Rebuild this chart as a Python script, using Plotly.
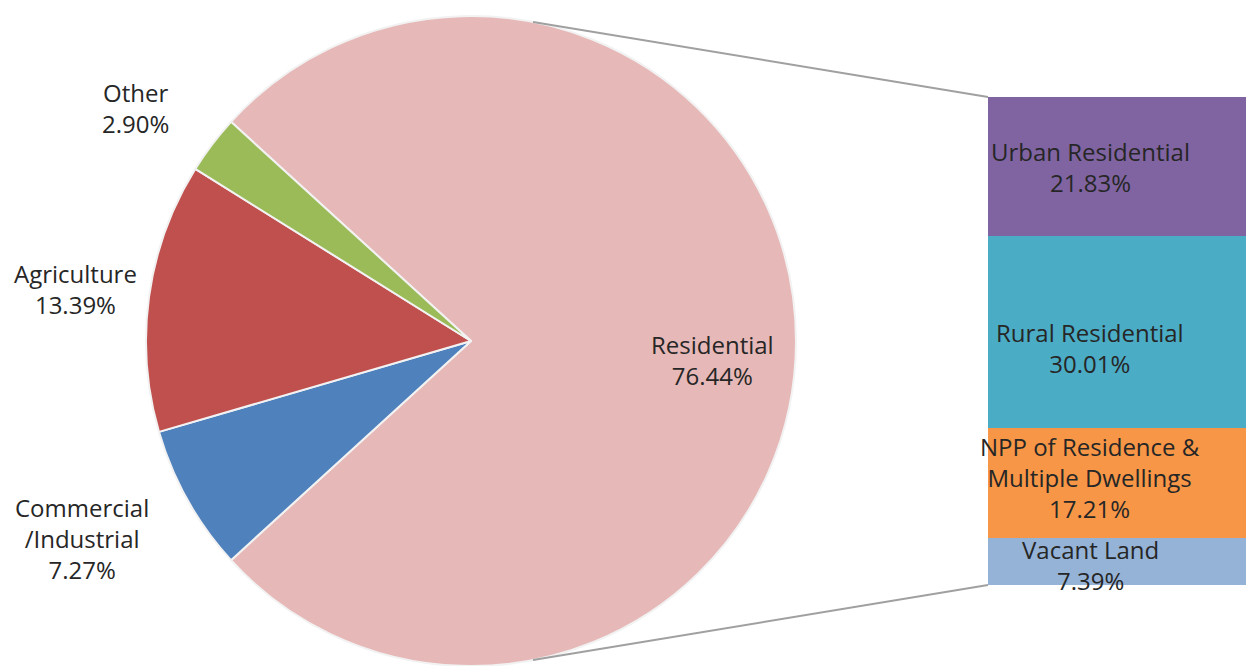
import plotly.graph_objects as go

# ---- data ----
pie_categories = ["Residential", "Commercial/Industrial", "Agriculture", "Other"]
pie_values = [76.44, 7.27, 13.39, 2.90]
pie_display = ["Residential", "Commercial<br>/Industrial", "Agriculture", "Other"]

bar_categories = ["Vacant Land", "NPP of Residence & Multiple Dwellings",
                  "Rural Residential", "Urban Residential"]
bar_values = [7.39, 17.21, 30.01, 21.83]
bar_display = ["Vacant Land", "NPP of Residence &<br>Multiple Dwellings",
               "Rural Residential", "Urban Residential"]

# ---- styles ----
pie_colors = ["#E6B9B8", "#4F81BD", "#C0504D", "#9BBB59"]
bar_colors = ["#95B3D7", "#F79646", "#4BACC6", "#8064A2"]
FONT = "Open Sans"
FSIZE = 24
TXT = "#262626"
W, H = 1246, 666

# pie geometry (pixels)
cx, cy, r = 471, 341, 325
pie_label_pos = {  # paper pixel positions of label centres
    "Residential": (712, 360),
    "Commercial/Industrial": (82, 538),
    "Agriculture": (75, 289),
    "Other": (135, 108),
}
bar_label_yshift = [-4, 5, -16, 0]

fig = go.Figure()

total_pie = sum(pie_values)
first_angle = pie_values[0] / total_pie * 360.0
rotation = 90 - first_angle / 2

fig.add_trace(go.Pie(
    labels=pie_categories,
    values=pie_values,
    sort=False,
    direction="clockwise",
    rotation=rotation,
    marker=dict(colors=pie_colors, line=dict(color="#F2F2F2", width=2)),
    textinfo="none",
    hoverinfo="label+value",
    showlegend=False,
    domain=dict(x=[(cx - r) / W, (cx + r) / W],
                y=[(H - cy - r) / H, (H - cy + r) / H]),
))

for cat, val, col in zip(bar_categories, bar_values, bar_colors):
    fig.add_trace(go.Bar(
        x=[0], y=[val], width=[1], name=cat,
        marker=dict(color=col, line=dict(width=0)),
        showlegend=False, hoverinfo="name+y",
    ))

annotations = []
for cat, disp, val in zip(pie_categories, pie_display, pie_values):
    px, py = pie_label_pos[cat]
    annotations.append(dict(
        x=px / W, y=1 - py / H, xref="paper", yref="paper",
        text=f"{disp}<br>{val:.2f}%", showarrow=False,
        font=dict(family=FONT, size=FSIZE, color=TXT),
        xanchor="center", yanchor="middle", align="center",
    ))

cum = 0.0
bar_total = sum(bar_values)
for disp, val, ys in zip(bar_display, bar_values, bar_label_yshift):
    mid = cum + val / 2
    cum += val
    annotations.append(dict(
        x=1090 / W, y=mid, xref="paper", yref="y",
        text=f"{disp}<br>{val:.2f}%", showarrow=False, yshift=ys,
        font=dict(family=FONT, size=FSIZE, color=TXT),
        xanchor="center", yanchor="middle", align="center",
    ))

# connector lines from pie to bar
shapes = [
    dict(type="line", xref="paper", yref="paper", x0=533 / W, y0=1 - 22 / H,
         x1=988 / W, y1=1 - 97 / H, line=dict(color="#A0A0A0", width=2)),
    dict(type="line", xref="paper", yref="paper", x0=533 / W, y0=1 - 660 / H,
         x1=988 / W, y1=1 - 585 / H, line=dict(color="#A0A0A0", width=2)),
]

fig.update_layout(
    width=W, height=H,
    margin=dict(l=0, r=0, t=0, b=0),
    paper_bgcolor="white", plot_bgcolor="rgba(0,0,0,0)",
    barmode="stack", bargap=0,
    xaxis=dict(domain=[988 / W, 1.0], range=[-0.5, 0.5], visible=False, fixedrange=True),
    yaxis=dict(domain=[1 - 585 / H, 1 - 97 / H], range=[0, bar_total], visible=False, fixedrange=True),
    annotations=annotations,
    shapes=shapes,
    font=dict(family=FONT, color=TXT),
)

fig.write_html(
    "out.html",
    config={"displayModeBar": False},
    post_script="document.body.style.margin='0px';document.body.style.overflow='hidden';",
)
